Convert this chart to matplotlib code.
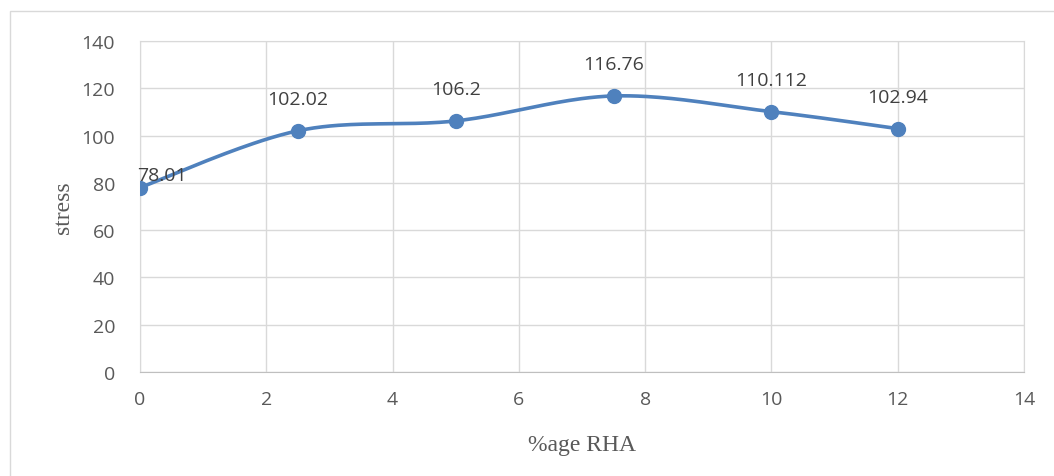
import numpy as np
import matplotlib.pyplot as plt
from matplotlib.patches import Rectangle

# data
rha = [0, 2.5, 5, 7.5, 10, 12]
stress = [78.01, 102.02, 106.2, 116.76, 110.112, 102.94]
labels = ['78.01', '102.02', '106.2', '116.76', '110.112', '102.94']


def smooth(x, y, n=40):
    # Excel-style smoothed line (cardinal bezier between points)
    x = np.asarray(x, float)
    y = np.asarray(y, float)
    px = np.concatenate([[x[0]], x, [x[-1]]])
    py = np.concatenate([[y[0]], y, [y[-1]]])
    xs, ys = [], []
    t = np.linspace(0, 1, n)
    for i in range(1, len(px) - 2):
        p0 = np.array([px[i], py[i]])
        p3 = np.array([px[i + 1], py[i + 1]])
        p1 = p0 + (p3 - np.array([px[i - 1], py[i - 1]])) / 6
        p2 = p3 - (np.array([px[i + 2], py[i + 2]]) - p0) / 6
        b = ((1 - t) ** 3)[:, None] * p0 + (3 * (1 - t) ** 2 * t)[:, None] * p1 \
            + (3 * (1 - t) * t ** 2)[:, None] * p2 + (t ** 3)[:, None] * p3
        xs.extend(b[:, 0])
        ys.extend(b[:, 1])
    return xs, ys


fig = plt.figure(figsize=(10.54, 4.77), dpi=100)
fig.patches.append(Rectangle((10 / 1054, -0.1), 1.2, 1 - 12 / 477 + 0.1,
                             transform=fig.transFigure, fill=False,
                             edgecolor='#d9d9d9', linewidth=1))
ax = fig.add_axes([140 / 1054, 1 - 373 / 477, 884 / 1054, 331 / 477])

sx, sy = smooth(rha, stress)
ax.plot(sx, sy, color='#4f81bd', linewidth=2.6, solid_capstyle='round', zorder=3)
ax.plot(rha, stress, 'o', color='#4f81bd', markersize=10, zorder=4)

for i, (xv, yv, lab) in enumerate(zip(rha, stress, labels)):
    off = (16, 9) if i == 0 else (0, 23)
    ax.annotate(lab, (xv, yv), xytext=off, textcoords='offset points',
                ha='center', va='center', fontsize=14, color='#404040',
                family='Open Sans', annotation_clip=False)

ax.set_xlim(0, 14)
ax.set_ylim(0, 140)
ax.set_xticks(range(0, 15, 2))
ax.set_yticks(range(0, 141, 20))
ax.grid(True, color='#d9d9d9', linewidth=1)
ax.set_axisbelow(True)
for s in ax.spines.values():
    s.set_color('#d9d9d9')
ax.spines['bottom'].set_color('#bfbfbf')
ax.tick_params(length=0, labelsize=14, labelcolor='#595959')
ax.tick_params(axis='x', pad=13)
ax.tick_params(axis='y', pad=18)
for t in ax.get_xticklabels() + ax.get_yticklabels():
    t.set_family('Open Sans')

ax.set_xlabel('%age RHA', family='Liberation Serif', fontsize=17, color='#595959', labelpad=19)
ax.set_ylabel('stress', family='Liberation Serif', fontsize=17, color='#595959', labelpad=5)

plt.savefig('out.png', dpi=100)
